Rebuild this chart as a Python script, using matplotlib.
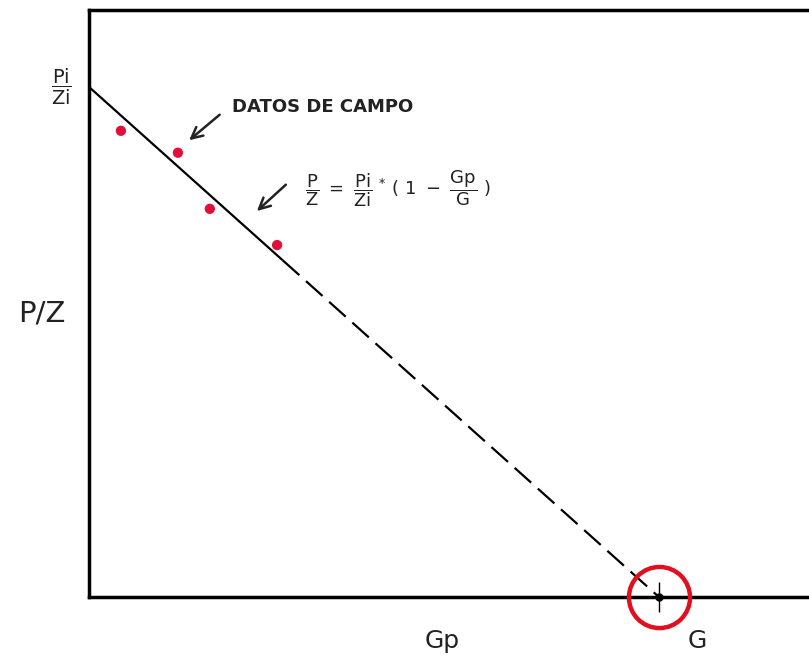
import matplotlib.pyplot as plt

# field data (Gp normalised by G, P/Z normalised by Pi/Zi)
gp_field = [0.056, 0.156, 0.212, 0.330]
pz_field = [0.914, 0.871, 0.761, 0.690]

pi_zi = 1.0
G = 1.0
gp_solid = [0.0, 0.340]
gp_dash = [0.340, G]

fig = plt.figure(figsize=(8.09, 6.59), dpi=100)
ax = fig.add_axes([0.110, 0.094, 0.892, 0.891])
ax.set_xlim(0, 1.266)
ax.set_ylim(0, 1.151)

for s in ['left', 'top', 'bottom']:
    ax.spines[s].set_linewidth(2.5)
ax.spines['right'].set_visible(False)
ax.set_xticks([])
ax.set_yticks([])

# material balance line
pz_solid = [pi_zi * (1 - g / G) for g in gp_solid]
pz_dash = [pi_zi * (1 - g / G) for g in gp_dash]
ax.plot(gp_solid, pz_solid, color='black', lw=1.6, solid_capstyle='butt')
ax.plot(gp_dash, pz_dash, color='black', lw=1.6, dashes=(10, 4))

ax.scatter(gp_field, pz_field, color='#e0103a', s=55, zorder=3, edgecolor='none')

# G intercept
ax.plot([G], [0], marker='o', ms=44, mfc='none', mec='#e01020', mew=3.2, clip_on=False, zorder=4)
ax.plot([G], [0], marker='|', ms=22, color='black', mew=1, clip_on=False, zorder=5)
ax.plot([G], [0], marker='_', ms=9, color='black', mew=1, clip_on=False, zorder=5)
ax.plot([G], [0], marker='o', ms=5, color='black', clip_on=False, zorder=5)

# labels
ax.text(-0.082, 0.556, 'P/Z', fontsize=21, ha='center', va='center', color='#222222')
ax.text(0.619, -0.086, 'Gp', fontsize=18, ha='center', va='center', color='#222222')
ax.text(1.067, -0.086, 'G', fontsize=18, ha='center', va='center', color='#222222')
ax.text(-0.049, 1.0, r'$\dfrac{\mathrm{Pi}}{\mathrm{Zi}}$', fontsize=14, ha='center', va='center',
        color='#222222')

ax.text(0.251, 0.961, 'DATOS DE CAMPO', fontsize=13, fontweight='bold', ha='left', va='center',
        color='#222222')
ax.annotate('', xy=(0.172, 0.892), xytext=(0.233, 0.949),
            arrowprops=dict(arrowstyle='->', lw=1.8, color='#222222', mutation_scale=20))

ax.text(0.379, 0.800,
        r'$\dfrac{\mathrm{P}}{\mathrm{Z}}\ \mathrm{=}\ \dfrac{\mathrm{Pi}}{\mathrm{Zi}}\ ^{*}\ (\ 1\ -\ \dfrac{\mathrm{Gp}}{\mathrm{G}}\ )$',
        fontsize=13, ha='left', va='center', color='#222222')
ax.annotate('', xy=(0.291, 0.753), xytext=(0.349, 0.812),
            arrowprops=dict(arrowstyle='->', lw=1.8, color='#222222', mutation_scale=20))

fig.savefig('out.png', dpi=100)
